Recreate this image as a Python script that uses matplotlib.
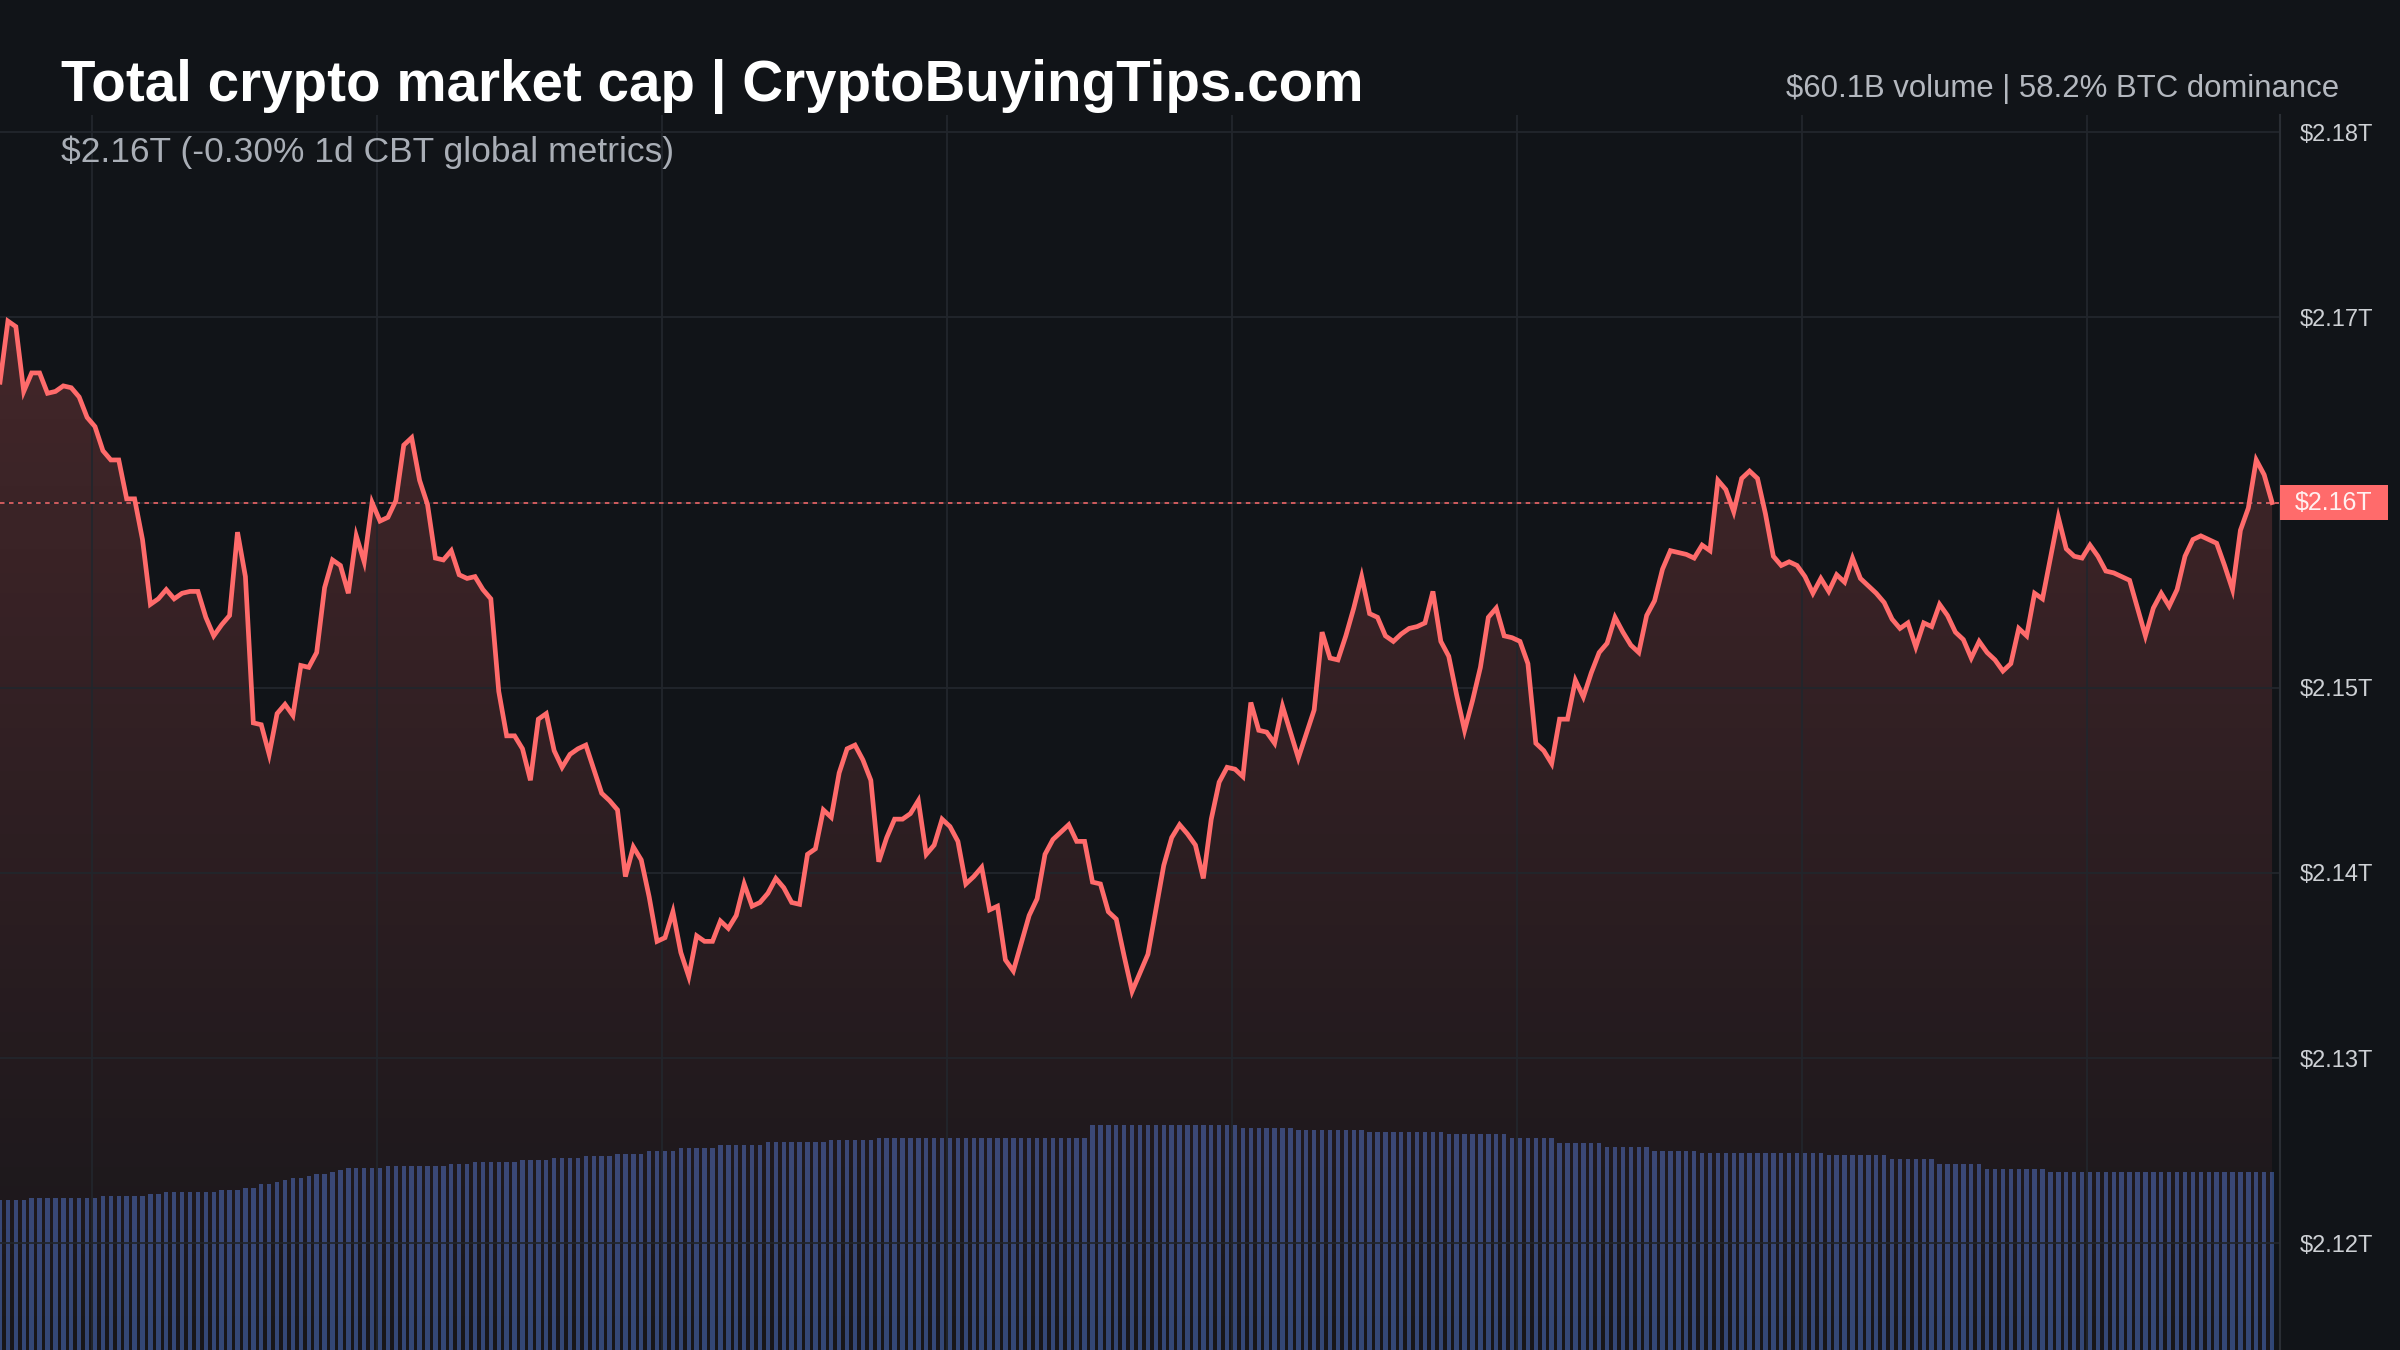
"""
Total crypto market cap, last 24h (5-minute points) with a rolling volume
histogram underneath. Dark "exchange style" chart.
"""

import numpy as np
import matplotlib.pyplot as plt
from matplotlib.colors import to_rgb
from matplotlib.patches import Polygon, Rectangle
from matplotlib.transforms import blended_transform_factory

plt.rcParams['font.family'] = ['Liberation Sans', 'DejaVu Sans']

# --- data -------------------------------------------------------------------
# total market cap in $T, one value every 5 minutes (288 points = 24h)
market_cap = [
    2.1665, 2.1698, 2.1695, 2.1660, 2.1670, 2.1670, 2.1659, 2.1660, 2.1663, 2.1662,
    2.1657, 2.1646, 2.1641, 2.1628, 2.1623, 2.1623, 2.1602, 2.1602, 2.1580, 2.1545,
    2.1548, 2.1553, 2.1548, 2.1551, 2.1552, 2.1552, 2.1538, 2.1528, 2.1534, 2.1539,
    2.1584, 2.1560, 2.1481, 2.1480, 2.1464, 2.1486, 2.1491, 2.1485, 2.1512, 2.1511,
    2.1519, 2.1554, 2.1569, 2.1566, 2.1551, 2.1582, 2.1568, 2.1600, 2.1590, 2.1592,
    2.1601, 2.1631, 2.1635, 2.1612, 2.1599, 2.1570, 2.1569, 2.1574, 2.1561, 2.1559,
    2.1560, 2.1553, 2.1548, 2.1498, 2.1474, 2.1474, 2.1467, 2.1450, 2.1483, 2.1486,
    2.1466, 2.1457, 2.1464, 2.1467, 2.1469, 2.1456, 2.1443, 2.1439, 2.1434, 2.1398,
    2.1414, 2.1407, 2.1387, 2.1363, 2.1365, 2.1379, 2.1357, 2.1344, 2.1366, 2.1363,
    2.1363, 2.1374, 2.1370, 2.1377, 2.1394, 2.1382, 2.1384, 2.1389, 2.1397, 2.1392,
    2.1384, 2.1383, 2.1410, 2.1413, 2.1434, 2.1430, 2.1454, 2.1467, 2.1469, 2.1461,
    2.1450, 2.1406, 2.1419, 2.1429, 2.1429, 2.1432, 2.1439, 2.1410, 2.1415, 2.1429,
    2.1425, 2.1417, 2.1394, 2.1398, 2.1403, 2.1380, 2.1382, 2.1353, 2.1347, 2.1362,
    2.1377, 2.1386, 2.1410, 2.1418, 2.1422, 2.1426, 2.1417, 2.1417, 2.1395, 2.1394,
    2.1379, 2.1375, 2.1355, 2.1336, 2.1346, 2.1356, 2.1380, 2.1404, 2.1419, 2.1426,
    2.1421, 2.1415, 2.1397, 2.1429, 2.1449, 2.1457, 2.1456, 2.1452, 2.1492, 2.1477,
    2.1476, 2.1470, 2.1490, 2.1476, 2.1462, 2.1475, 2.1488, 2.1530, 2.1516, 2.1515,
    2.1528, 2.1543, 2.1560, 2.1540, 2.1538, 2.1528, 2.1525, 2.1529, 2.1532, 2.1533,
    2.1535, 2.1552, 2.1525, 2.1517, 2.1496, 2.1477, 2.1493, 2.1511, 2.1538, 2.1543,
    2.1528, 2.1527, 2.1525, 2.1513, 2.1470, 2.1466, 2.1459, 2.1483, 2.1483, 2.1504,
    2.1495, 2.1508, 2.1519, 2.1524, 2.1538, 2.1530, 2.1523, 2.1519, 2.1539, 2.1547,
    2.1564, 2.1574, 2.1573, 2.1572, 2.1570, 2.1577, 2.1574, 2.1612, 2.1607, 2.1595,
    2.1613, 2.1617, 2.1613, 2.1594, 2.1571, 2.1566, 2.1568, 2.1566, 2.1560, 2.1551,
    2.1559, 2.1552, 2.1561, 2.1557, 2.1570, 2.1559, 2.1555, 2.1551, 2.1546, 2.1537,
    2.1532, 2.1535, 2.1522, 2.1535, 2.1533, 2.1545, 2.1539, 2.1530, 2.1526, 2.1516,
    2.1525, 2.1519, 2.1515, 2.1509, 2.1513, 2.1532, 2.1528, 2.1551, 2.1548, 2.1570,
    2.1592, 2.1575, 2.1571, 2.1570, 2.1577, 2.1571, 2.1563, 2.1562, 2.1560, 2.1558,
    2.1543, 2.1528, 2.1543, 2.1551, 2.1544, 2.1553, 2.1571, 2.1580, 2.1582, 2.1580,
    2.1578, 2.1566, 2.1553, 2.1585, 2.1597, 2.1623, 2.1615, 2.1600,
]

# rolling 24h volume in $B at each 5-minute point
volume = [
    50.8, 50.8, 50.8, 50.8, 51.6, 51.6, 51.6, 51.6, 51.6, 51.6, 51.6, 51.6,
    51.6, 52.1, 52.1, 52.1, 52.1, 52.1, 52.1, 52.8, 52.8, 53.5, 53.5, 53.5,
    53.5, 53.5, 53.5, 53.5, 54.2, 54.2, 54.2, 54.9, 54.9, 56.1, 56.1, 56.9,
    57.6, 58.2, 58.2, 58.9, 59.5, 59.5, 60.2, 60.9, 61.5, 61.5, 61.5, 61.5,
    61.5, 62.3, 62.3, 62.3, 62.3, 62.3, 62.3, 62.3, 62.3, 62.9, 62.9, 62.9,
    63.7, 63.7, 63.7, 63.7, 63.7, 63.7, 64.2, 64.2, 64.2, 64.2, 64.9, 64.9,
    64.9, 64.9, 65.7, 65.7, 65.7, 65.7, 66.4, 66.4, 66.4, 66.4, 67.3, 67.3,
    67.3, 67.3, 68.4, 68.4, 68.4, 68.4, 68.4, 69.4, 69.4, 69.4, 69.4, 69.4,
    69.4, 70.5, 70.5, 70.5, 70.5, 70.5, 70.5, 70.5, 70.5, 71.2, 71.2, 71.2,
    71.2, 71.2, 71.2, 71.8, 71.8, 71.8, 71.8, 71.8, 71.8, 71.8, 71.8, 71.8,
    71.8, 71.8, 71.8, 71.8, 71.8, 71.8, 71.8, 71.8, 71.8, 71.8, 71.8, 71.8,
    71.8, 71.8, 71.8, 71.8, 71.8, 71.8, 76.1, 76.1, 76.1, 76.1, 76.1, 76.1,
    76.1, 76.1, 76.1, 76.1, 76.1, 76.1, 76.1, 76.1, 76.1, 76.1, 76.1, 76.1,
    76.1, 75.3, 75.3, 75.3, 75.3, 75.3, 75.3, 75.3, 74.6, 74.6, 74.6, 74.6,
    74.6, 74.6, 74.6, 74.6, 74.6, 73.9, 73.9, 73.9, 73.9, 73.9, 73.9, 73.9,
    73.9, 73.9, 73.9, 73.0, 73.0, 73.0, 73.0, 73.0, 73.0, 73.0, 73.0, 71.6,
    71.6, 71.6, 71.6, 71.6, 71.6, 70.2, 70.2, 70.2, 70.2, 70.2, 70.2, 68.8,
    68.8, 68.8, 68.8, 68.8, 68.8, 67.5, 67.5, 67.5, 67.5, 67.5, 67.5, 66.6,
    66.6, 66.6, 66.6, 66.6, 66.6, 66.6, 66.6, 66.6, 66.6, 66.6, 66.6, 66.6,
    66.6, 66.6, 66.6, 66.0, 66.0, 66.0, 66.0, 66.0, 66.0, 66.0, 66.0, 64.6,
    64.6, 64.6, 64.6, 64.6, 64.6, 63.0, 63.0, 63.0, 63.0, 63.0, 63.0, 61.4,
    61.4, 61.4, 61.4, 61.4, 61.4, 61.4, 61.4, 60.1, 60.1, 60.1, 60.1, 60.1,
    60.1, 60.1, 60.1, 60.1, 60.1, 60.1, 60.1, 60.1, 60.1, 60.1, 60.1, 60.1,
    60.1, 60.1, 60.1, 60.1, 60.1, 60.1, 60.1, 60.1, 60.1, 60.1, 60.1, 60.1,
]

price_ticks = [2.12, 2.13, 2.14, 2.15, 2.16, 2.17, 2.18]
change_1d = -0.30        # %
volume_24h = 60.1        # $B
btc_dominance = 58.2     # %
first_grid_min = 58      # first 3-hour mark, minutes after the first point
grid_step_min = 180

# --- colours ----------------------------------------------------------------
BG = '#111418'
LINE = '#ff6b6b'
GRID = '#22262c'
BAR = '#2e4677'
TICK = '#cdd0d4'

assert len(market_cap) == len(volume) == 288

x = np.arange(len(market_cap))          # one step = 5 minutes
cap = np.array(market_cap)
last = cap[-1]

fig = plt.figure(figsize=(24, 13.5), dpi=100, facecolor=BG)
rect = [0, 0, 2280 / 2400, 1235 / 1350]
ax_vol = fig.add_axes(rect, facecolor=BG)
ax = fig.add_axes(rect, sharex=ax_vol)
ax.patch.set_visible(False)

xlim = (0, 288.0)
ylim = (2.11423, 2.18093)

# volume histogram on its own scale, behind the price
ax_vol.bar(x, volume, width=0.55, color=BAR, linewidth=0)
ax_vol.set_ylim(0, 418)
ax_vol.set_yticks([])
ax_vol.tick_params(axis='x', length=0, labelbottom=False)
for s in ax_vol.spines.values():
    s.set_visible(False)

# gradient fill under the price line
rgb = to_rgb(LINE)
grad = np.zeros((256, 1, 4))
grad[..., 0], grad[..., 1], grad[..., 2] = rgb
grad[:, 0, 3] = np.linspace(0.25, 0.03, 256)
im = ax.imshow(grad, extent=[xlim[0], xlim[1], ylim[0], ylim[1]],
               aspect='auto', origin='upper', zorder=0.5)
verts = np.vstack([[x[0], ylim[0]], np.column_stack([x, cap]), [x[-1], ylim[0]]])
clip = Polygon(verts, closed=True, facecolor='none', edgecolor='none')
ax.add_patch(clip)
im.set_clip_path(clip)

ax.plot(x, cap, color=LINE, lw=3.4, solid_joinstyle='miter', zorder=3)
ax.axhline(last, color=LINE, lw=1.3, ls=(0, (2.5, 2.5)), alpha=0.85, zorder=2.5)

ax.set_xlim(*xlim)
ax.set_ylim(*ylim)

# grid: price levels and 3-hour marks
ax.set_yticks(price_ticks)
ax.set_yticklabels([f"${t:.2f}T" for t in price_ticks])
ax.set_xticks([(first_grid_min + k * grid_step_min) / 5 for k in range(8)])
ax.grid(True, color=GRID, lw=1.3)
ax.yaxis.tick_right()
ax.tick_params(axis='y', length=0, pad=14, labelsize=17, labelcolor=TICK)
ax.tick_params(axis='x', length=0, labelbottom=False)
for name, s in ax.spines.items():
    s.set_visible(name == 'right')
ax.spines['right'].set_color('#2a2e34')
ax.spines['right'].set_linewidth(1.5)

# current price tag on the axis
blend = blended_transform_factory(ax.transAxes, ax.transData)
ax.add_patch(Rectangle((1.0, last - 0.00092), 108 / 2280, 0.00184,
                       transform=blend, facecolor=LINE, edgecolor='none',
                       clip_on=False, zorder=5))
ax.text(1.0 + 54 / 2280, last, f"${last:.2f}T", transform=blend,
        ha='center', va='center', fontsize=18, color='#fff0f0', zorder=6)

# header texts
fig.text(0.0254, 0.925, "Total crypto market cap | CryptoBuyingTips.com",
         fontsize=40.7, fontweight='bold', color='white', va='baseline')
fig.text(0.0254, 0.880, f"${last:.2f}T ({change_1d:.2f}% 1d CBT global metrics)",
         fontsize=25.5, color='#a9aeb6', va='baseline')
fig.text(0.9746, 0.9285,
         f"${volume_24h:.1f}B volume | {btc_dominance:.1f}% BTC dominance",
         fontsize=22.4, color='#b4b8bf', ha='right', va='baseline')

fig.savefig('out.png', dpi=100, facecolor=BG)
